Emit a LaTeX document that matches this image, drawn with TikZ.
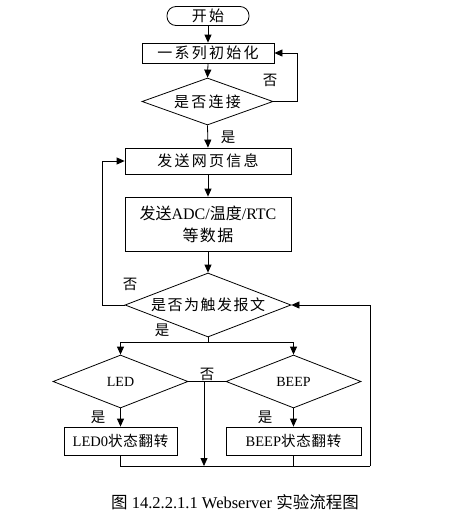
\documentclass[tikz,border=0pt]{standalone}
\usepackage{fontspec}
\setmainfont{Liberation Serif}
\newfontfamily\cjk{Noto Sans CJK SC}
\usetikzlibrary{shapes.geometric,arrows.meta}
\tikzset{
  arr/.style={-{Triangle[length=8pt,width=7pt]}},
  ln/.style={line width=0.8pt},
  boxnode/.style={draw,line width=0.8pt,rectangle,inner sep=0pt,align=center,font=\fontsize{15}{19}\selectfont},
  decide/.style={draw,line width=0.8pt,diamond,aspect=2.6,inner sep=0pt,font=\fontsize{15}{18}\selectfont},
  lab/.style={inner sep=0pt,font=\fontsize{14.5}{16}\selectfont\cjk},
}
\begin{document}
\begin{tikzpicture}[x=1pt,y=-1pt]
\useasboundingbox (0,0) rectangle (450,523);
\node[boxnode,rounded corners=9pt,minimum width=82pt,minimum height=19pt] (start) at (208,16) {\cjk\addfontfeature{LetterSpace=15}开始};
\node[boxnode,minimum width=132pt,minimum height=20pt] (init) at (208,53) {\cjk\addfontfeature{LetterSpace=15}一系列初始化};
\node[decide,minimum width=131pt,minimum height=47pt] (conn) at (207.5,101.5) {\cjk\addfontfeature{LetterSpace=15}是否连接};
\node[boxnode,minimum width=166pt,minimum height=26pt] (send) at (208,161) {\cjk\addfontfeature{LetterSpace=15}发送网页信息};
\node[boxnode,minimum width=166pt,minimum height=54pt,font=\fontsize{16}{22}\selectfont] (data) at (208,224) {{\cjk 发送}ADC/{\cjk 温度}/RTC\\{\cjk\addfontfeature{LetterSpace=8}等数据}};
\node[decide,minimum width=166pt,minimum height=64pt] (trig) at (208,305) {\cjk\addfontfeature{LetterSpace=10}是否为触发报文};
\node[decide,minimum width=135pt,minimum height=53pt,font=\fontsize{14}{16}\selectfont] (led) at (120.5,381.5) {LED};
\node[decide,minimum width=135pt,minimum height=53pt,font=\fontsize{14}{16}\selectfont] (beep) at (293.5,381.5) {BEEP};
\node[boxnode,minimum width=113pt,minimum height=28pt,font=\fontsize{14.5}{16}\selectfont] (ledbox) at (120.5,441) {LED0{\cjk\addfontfeature{LetterSpace=5}状态翻转}};
\node[boxnode,minimum width=135pt,minimum height=28pt,font=\fontsize{14.5}{16}\selectfont] (beepbox) at (293.5,441) {BEEP{\cjk\addfontfeature{LetterSpace=5}状态翻转}};

\coordinate (split) at (208,342);
\coordinate (mid) at (204,381.5);
\coordinate (bot) at (204,466);
\coordinate (ledbot) at (120.5,466);
\coordinate (beepbot) at (293.5,466);
\coordinate (rightbot) at (370,466);

\draw[ln,arr] (start.south) -- (init.north);
\draw[ln,arr] (init.south) -- (conn.north);
\draw[ln,arr] (conn.east) -- ++(24,0) |- (init.east);
\draw[ln,arr] (conn.south) -- (send.north);
\draw[ln,arr] (send.south) -- (data.north);
\draw[ln,arr] (data.south) -- (trig.north);
\draw[ln,arr] (trig.west) -- ++(-22,0) |- (send.west);
\draw[ln] (trig.south) -- (split);
\draw[ln,arr] (split) -| (led.north);
\draw[ln,arr] (split) -| (beep.north);
\draw[ln] (led.east) -- (beep.west);
\draw[ln,arr] (mid) -- (bot);
\draw[ln,arr] (led.south) -- (ledbox.north);
\draw[ln,arr] (beep.south) -- (beepbox.north);
\draw[ln] (ledbox.south) -- (ledbot) -- (rightbot);
\draw[ln] (beepbox.south) -- (beepbot);
\draw[ln,arr] (rightbot) |- (trig.east);

\node[lab] (l1) at (270,80) {否};
\node[lab] (l2) at (228,137) {是};
\node[lab] (l3) at (130,284) {否};
\node[lab] (l4) at (162,330) {是};
\node[lab] (l5) at (207,374) {否};
\node[lab] (l6) at (98,417) {是};
\node[lab] (l7) at (265,417) {是};

\node[inner sep=0pt,font=\fontsize{16.5}{18}\selectfont] (cap) at (235,502) {{\cjk 图} 14.2.2.1.1 Webserver {\cjk 实验流程图}};
\end{tikzpicture}
\end{document}
